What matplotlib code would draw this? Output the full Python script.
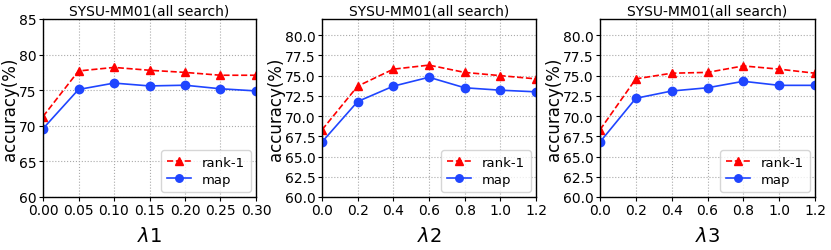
import matplotlib
matplotlib.use("Agg")
import matplotlib.pyplot as plt

x1 = [0.00, 0.05, 0.10, 0.15, 0.20, 0.25, 0.30]
rank1_1 = [71.3, 77.7, 78.2, 77.8, 77.5, 77.1, 77.1]
map_1 = [69.6, 75.1, 76.0, 75.6, 75.7, 75.2, 74.9]

x2 = [0.0, 0.2, 0.4, 0.6, 0.8, 1.0, 1.2]
rank1_2 = [68.3, 73.7, 75.8, 76.3, 75.4, 75.0, 74.6]
map_2 = [66.8, 71.8, 73.7, 74.8, 73.5, 73.2, 73.0]

x3 = [0.0, 0.2, 0.4, 0.6, 0.8, 1.0, 1.2]
rank1_3 = [68.3, 74.6, 75.3, 75.4, 76.2, 75.8, 75.3]
map_3 = [66.8, 72.2, 73.1, 73.5, 74.3, 73.8, 73.8]

xlabels = [r"$\lambda1$", r"$\lambda2$", r"$\lambda3$"]
title = "SYSU-MM01(all search)"

fig = plt.figure(figsize=(8.31, 2.51), dpi=100)
W, H = 831, 251
boxes = [(43, 256), (322, 536), (600, 815)]
top, bottom = 20, 198
datasets = [(x1, rank1_1, map_1, (60, 85), [60, 65, 70, 75, 80, 85], "%d", "%.2f"),
            (x2, rank1_2, map_2, (60, 82), [60, 62.5, 65, 67.5, 70, 72.5, 75, 77.5, 80], "%.1f", "%.1f"),
            (x3, rank1_3, map_3, (60, 82), [60, 62.5, 65, 67.5, 70, 72.5, 75, 77.5, 80], "%.1f", "%.1f")]
blue = "#1f45ff"
for (l, r), (x, r1, mp, yl, yt, yf, xf), xl in zip(boxes, datasets, xlabels):
    ax = fig.add_axes([l / W, 1 - bottom / H, (r - l) / W, (bottom - top) / H])
    ax.plot(x, r1, "--", color="red", marker="^", markersize=6, linewidth=1.2, label="rank-1")
    ax.plot(x, mp, "-", color=blue, marker="o", markersize=6, linewidth=1.2, label="map")
    ax.set_xlim(x[0], x[-1])
    ax.set_ylim(*yl)
    ax.set_xticks(x)
    ax.set_xticklabels([xf % v for v in x], fontsize=10)
    ax.set_yticks(yt)
    ax.set_yticklabels([yf % v for v in yt], fontsize=10)
    ax.grid(True, linestyle=":", color="#aaaaaa", linewidth=0.8)
    ax.set_title(title, fontsize=10, pad=3)
    ax.set_ylabel("accuracy(%)", fontsize=12, labelpad=0)
    ax.set_xlabel(xl, fontsize=14, labelpad=6)
    ax.tick_params(length=3, pad=1.5)
    for s in ax.spines.values():
        s.set_linewidth(1.0)
    ax.legend(loc="lower right", fontsize=9.5, handlelength=1.8, borderpad=0.45,
              labelspacing=0.3, markerscale=0.9, borderaxespad=0.4)

fig.savefig("out.png", dpi=100)
